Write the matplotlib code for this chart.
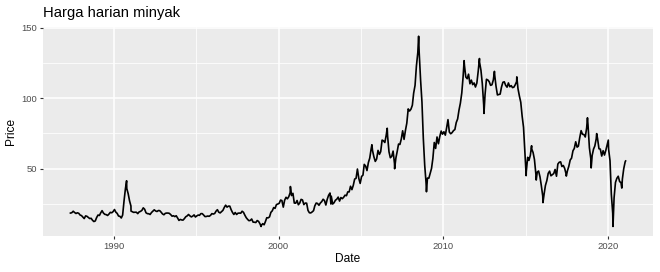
import matplotlib
matplotlib.use("Agg")
import matplotlib.pyplot as plt
import matplotlib.dates as mdates
import pandas as pd
import numpy as np

# Monthly Brent-like prices (May 1987 .. Jan 2021)
start_month = "1987-05"
monthly_price = [
    18.6, 18.9, 19.9, 19.0, 18.3, 18.8, 18.4, 17.2,
    16.8, 15.7, 14.7, 16.6, 16.3, 15.5, 14.7, 14.9, 13.5, 12.6, 13.0, 15.4,
    17.2, 16.9, 18.7, 20.3, 18.6, 17.7, 17.5, 16.9, 17.9, 19.1, 18.8, 19.6,
    21.1, 19.2, 18.4, 16.5, 16.3, 15.1, 17.2, 27.2, 35.9, 36.0, 32.3, 27.3,
    23.6, 19.5, 19.1, 19.2, 19.2, 18.2, 19.4, 19.8, 20.5, 22.3, 21.3, 18.8,
    18.2, 18.1, 17.6, 19.0, 19.9, 20.9, 20.1, 19.7, 20.4, 20.3, 19.2, 18.0,
    17.4, 18.4, 18.6, 18.6, 18.4, 17.5, 16.4, 16.7, 16.1, 16.7, 15.1, 13.4,
    14.1, 13.7, 13.6, 14.7, 16.0, 16.6, 17.6, 16.6, 15.9, 16.4, 17.3, 15.8,
    16.6, 17.2, 17.0, 18.2, 18.2, 17.2, 16.1, 16.2, 16.5, 16.3, 17.0, 18.2,
    17.9, 18.3, 19.9, 21.0, 19.2, 18.7, 19.6, 20.5, 22.6, 24.2, 22.8, 23.5,
    23.5, 20.9, 19.1, 17.6, 19.0, 17.6, 18.5, 18.6, 18.5, 19.9, 19.1, 17.1,
    15.3, 14.1, 13.2, 13.4, 14.4, 12.2, 12.1, 11.9, 13.3, 12.7, 11.0, 9.8,
    11.1, 10.3, 12.5, 15.3, 15.2, 15.9, 19.1, 20.2, 22.5, 21.9, 24.6, 25.0,
    25.5, 27.8, 27.5, 22.8, 27.7, 29.8, 28.7, 30.2, 33.1, 31.0, 32.6, 25.7,
    25.6, 27.5, 24.5, 25.7, 28.3, 27.9, 24.6, 25.7, 25.6, 20.5, 18.8, 18.7,
    19.4, 20.3, 23.7, 25.7, 25.4, 24.1, 25.7, 26.7, 28.4, 27.5, 24.3, 28.3,
    31.2, 32.8, 30.6, 25.0, 25.9, 27.7, 28.4, 29.9, 27.1, 29.6, 28.8, 29.8,
    31.3, 30.9, 33.6, 33.6, 37.6, 35.2, 38.2, 42.7, 43.2, 49.8, 43.1, 39.6,
    44.5, 45.5, 53.1, 51.9, 48.7, 54.4, 57.5, 64.0, 62.9, 58.5, 55.2, 56.9,
    63.0, 60.2, 62.1, 70.3, 69.8, 68.6, 73.7, 73.2, 62.0, 57.8, 58.8, 62.5,
    53.7, 57.6, 62.1, 67.5, 67.2, 71.1, 76.9, 70.8, 77.2, 82.3, 92.4, 90.9,
    92.2, 95.0, 103.6, 109.1, 122.8, 132.3, 132.7, 113.2, 97.2, 71.6, 52.5, 40.0,
    43.4, 43.3, 46.5, 50.2, 57.3, 68.6, 64.4, 72.5, 67.7, 72.8, 76.7, 74.5,
    76.2, 73.8, 78.8, 84.8, 76.0, 74.8, 75.6, 77.0, 77.8, 82.7, 85.3, 91.5,
    96.5, 103.7, 114.6, 123.3, 115.0, 113.8, 117.0, 110.2, 112.8, 109.6, 110.8, 107.9,
    110.7, 119.3, 125.5, 119.8, 110.3, 95.2, 102.6, 113.4, 112.9, 111.7, 109.1, 109.5,
    113.0, 116.1, 108.5, 102.3, 102.6, 102.9, 107.9, 111.3, 111.6, 109.1, 107.8, 110.8,
    108.1, 108.9, 107.5, 107.8, 109.5, 111.8, 106.8, 101.6, 97.1, 87.4, 79.4, 62.3,
    47.8, 58.1, 55.9, 59.5, 64.1, 61.5, 56.6, 46.5, 47.6, 48.4, 44.3, 38.0,
    30.7, 32.2, 38.2, 41.6, 46.7, 48.3, 45.0, 45.8, 46.6, 49.5, 44.7, 53.3,
    54.6, 54.9, 51.6, 52.3, 50.3, 46.4, 48.5, 51.7, 56.2, 57.5, 62.7, 64.4,
    69.1, 65.3, 66.0, 72.1, 77.0, 74.4, 74.3, 72.5, 78.9, 81.0, 64.8, 57.4,
    59.4, 64.0, 66.1, 71.2, 71.3, 64.2, 63.9, 59.0, 62.8, 59.7, 63.2, 67.3,
    63.7, 55.7, 32.0, 18.4, 29.4, 40.3, 43.2, 44.7, 40.9, 40.2, 42.7, 50.0,
    54.8,
]

# Daily extremes visible in the chart
extreme_dates = [
    "1987-05-20", "1990-10-11", "1991-01-17", "1998-12-10", "2000-09-20",
    "2003-03-07", "2005-09-01", "2006-08-07", "2007-01-18", "2008-07-03",
    "2008-12-24", "2011-04-08", "2012-03-13", "2012-06-21", "2013-02-08",
    "2014-06-19", "2015-01-13", "2015-05-13", "2015-08-24", "2016-01-20",
    "2017-06-21", "2018-10-03", "2018-12-24", "2019-04-25", "2020-01-08",
    "2020-04-21", "2020-11-02", "2021-01-25",
]
extreme_price = [
    18.6, 41.5, 20.0, 9.1, 37.4,
    25.0, 67.0, 78.7, 50.0, 143.9,
    33.7, 126.6, 128.1, 89.2, 119.0,
    115.1, 45.1, 66.3, 42.0, 26.0,
    44.8, 86.1, 50.6, 74.9, 70.3,
    9.1, 36.3, 55.5,
]

title_text = "Harga harian minyak"
x_label = "Date"
y_label = "Price"
major_years = [1990, 2000, 2010, 2020]
minor_years = [1995, 2005, 2015]
y_major = [50, 100, 150]
y_minor = [25, 75, 125]

monthly_dates = pd.date_range(start_month, periods=len(monthly_price), freq="MS") + pd.Timedelta(days=14)
df = pd.concat([
    pd.DataFrame({"date": monthly_dates, "price": monthly_price}),
    pd.DataFrame({"date": pd.to_datetime(extreme_dates), "price": extreme_price}),
]).sort_values("date").reset_index(drop=True)

fig = plt.figure(figsize=(6.6, 2.72), dpi=100)
ax = fig.add_axes([0.0647, 0.1324, 0.9252, 0.7694])
ax.set_facecolor("#EBEBEB")
for s in ax.spines.values():
    s.set_visible(False)

ax.plot(df["date"], df["price"], color="black", lw=1.2, zorder=3)

ax.set_xticks([mdates.date2num(pd.Timestamp(f"{y}-01-01")) for y in major_years])
ax.set_xticklabels([str(y) for y in major_years])
ax.set_xticks([mdates.date2num(pd.Timestamp(f"{y}-01-01")) for y in minor_years], minor=True)
ax.set_yticks(y_major)
ax.set_yticks(y_minor, minor=True)

# limits with 5% expansion like ggplot (set after ticks)
x0 = mdates.date2num(df["date"].min()); x1 = mdates.date2num(df["date"].max())
dx = (x1 - x0) * 0.05
ax.set_xlim(x0 - dx, x1 + dx)
y0 = df["price"].min(); y1 = df["price"].max()
dy = (y1 - y0) * 0.05
ax.set_ylim(y0 - dy, y1 + dy)

ax.grid(which="major", color="white", lw=1.1, zorder=0)
ax.grid(which="minor", color="white", lw=0.55, zorder=0)
ax.set_axisbelow(True)
ax.tick_params(which="major", length=2.5, width=0.8, color="#333333",
               labelsize=6.8, labelcolor="#4D4D4D", pad=1.5)
ax.tick_params(which="minor", length=0)
for lab in ax.get_xticklabels() + ax.get_yticklabels():
    lab.set_family("Liberation Sans")

ax.set_xlabel(x_label, fontsize=8.6, family="Liberation Sans", labelpad=2)
ax.set_ylabel(y_label, fontsize=8.6, family="Liberation Sans", labelpad=3)
ax.set_title(title_text, fontsize=10.6, family="Liberation Sans", loc="left", pad=7)

fig.savefig("out.png", dpi=100)
